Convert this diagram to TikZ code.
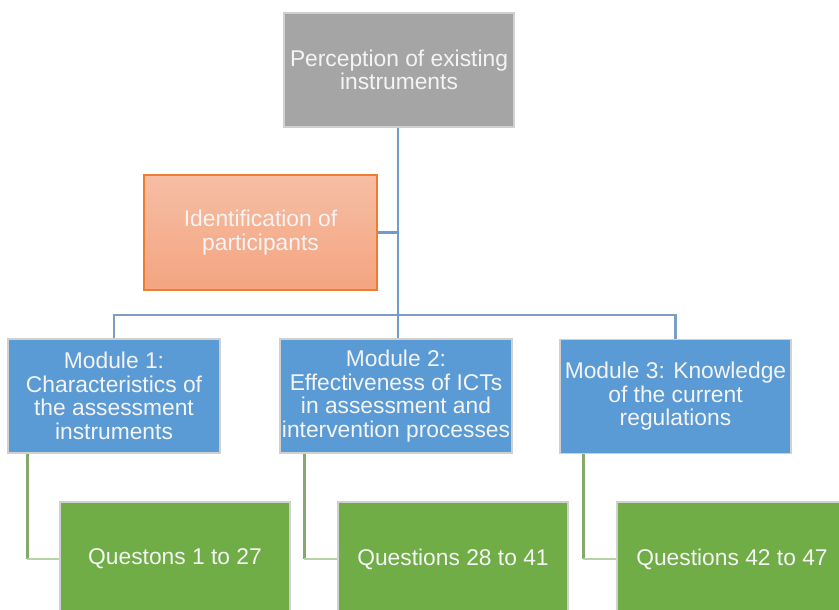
\documentclass[tikz,border=0pt]{standalone}
\usepackage{fontspec}
\setmainfont{Liberation Sans}
\definecolor{boxgray}{RGB}{165,165,165}
\definecolor{boxblue}{RGB}{91,155,213}
\definecolor{boxgreen}{RGB}{112,173,71}
\definecolor{orangetop}{RGB}{246,190,164}
\definecolor{orangebot}{RGB}{244,164,128}
\definecolor{orangeedge}{RGB}{237,125,49}
\definecolor{edgegray}{RGB}{208,208,208}
\definecolor{txt}{RGB}{244,244,244}
\definecolor{blueline}{RGB}{112,155,205}
\definecolor{busline}{RGB}{125,158,195}
\definecolor{gdark}{RGB}{135,168,108}
\definecolor{glight}{RGB}{183,212,165}
\tikzset{
  box/.style={rectangle, draw=edgegray, line width=1.5pt, inner sep=0pt, align=center,
    text=txt, font=\fontsize{22.8}{23.5}\selectfont},
  graybox/.style={box, fill=boxgray, minimum width=230pt, minimum height=114pt},
  orangebox/.style={box, draw=orangeedge, top color=orangetop, bottom color=orangebot, minimum width=233pt, minimum height=115pt},
  bluebox/.style={box, fill=boxblue, minimum height=114pt},
  greenbox/.style={box, fill=boxgreen, minimum width=230pt, minimum height=114pt},
  bconn/.style={draw=blueline, line width=2.8pt},
  busconn/.style={draw=busline, line width=2.8pt},
  gv/.style={draw=gdark, line width=2.8pt},
  gh/.style={draw=glight, line width=2.8pt},
}
\begin{document}
\begin{tikzpicture}[x=1pt,y=-1pt]
\useasboundingbox (0,0) rectangle (839,610);
\clip (0,0) rectangle (839,610);
\node[graybox] (top) at (399,70) {Perception of existing\\instruments};
\node[orangebox] (ident) at (260.5,232.5) {Identification of\\participants};
\node[bluebox, minimum width=212pt] (m1) at (114,396) {Module 1:\\Characteristics of\\the assessment\\instruments};
\node[bluebox, minimum width=232pt] (m2) at (396,396) {Module 2:\\Effectiveness of ICTs\\in assessment and\\intervention processes};
\node[bluebox, minimum width=231pt] (m3) at (675.5,396.5) {Module 3: Knowledge\\of the current\\regulations};
\node[greenbox] (q1) at (175,559) {Questons 1 to 27};
\node[greenbox] (q2) at (453,559) {Questions 28 to 41};
\node[greenbox] (q3) at (732,559) {Questions 42 to 47};
\coordinate (bus) at (398,315);
% connectors
\draw[busconn] (m1.north) |- (bus) -| (m3.north);
\draw[bconn] (top.south -| bus) -- (bus |- m2.north);
\draw[bconn] (ident.east) -- (ident.east -| bus);
\coordinate (g1) at ([xshift=20pt]m1.south west);
\coordinate (g2) at ([xshift=25pt]m2.south west);
\coordinate (g3) at ([xshift=24pt]m3.south west);
\draw[gv] (g1) -- (g1 |- q1.west);
\draw[gh] (g1 |- q1.west) -- (q1.west);
\draw[gv] (g2) -- (g2 |- q2.west);
\draw[gh] (g2 |- q2.west) -- (q2.west);
\draw[gv] (g3) -- (g3 |- q3.west);
\draw[gh] (g3 |- q3.west) -- (q3.west);
\end{tikzpicture}
\end{document}
